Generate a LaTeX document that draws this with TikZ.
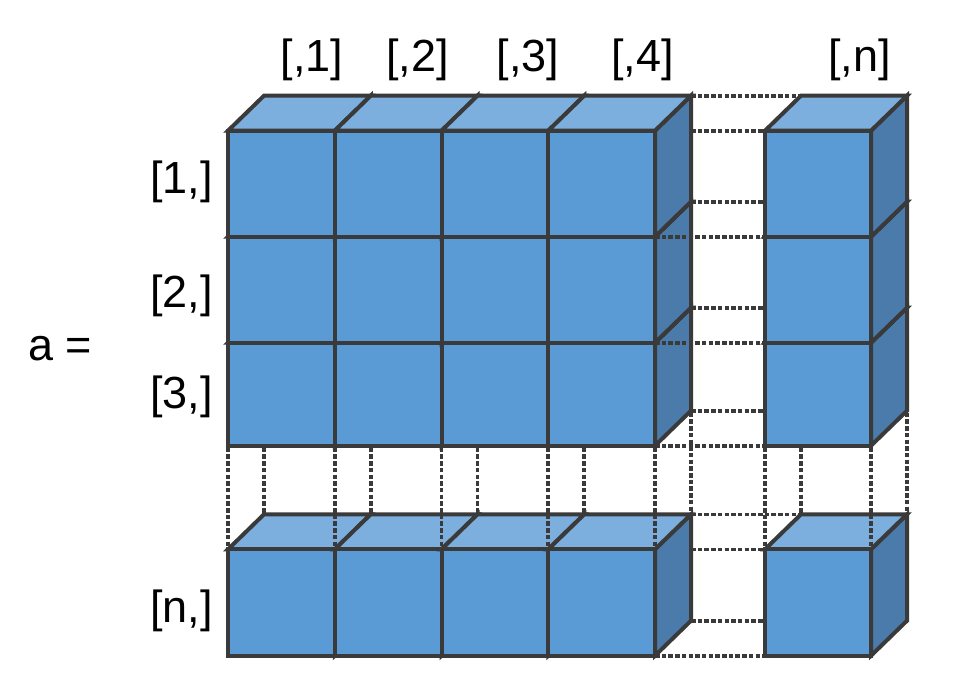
\documentclass[tikz,border=0pt]{standalone}
\usepackage{fontspec}
\setmainfont{Liberation Sans}
\definecolor{edgec}{HTML}{3A3A3A}
\definecolor{frontc}{HTML}{5B9BD5}
\definecolor{topc}{HTML}{7DAFDE}
\definecolor{sidec}{HTML}{4A7BAB}
\newcommand{\mycube}[4]{%
  \filldraw[cubeedge,fill=sidec] ({#1+#3},{#2}) -- ({#1+#3+36},{#2-35}) -- ({#1+#3+36},{#2+#4-35}) -- ({#1+#3},{#2+#4}) -- cycle;
  \filldraw[cubeedge,fill=topc] (#1,#2) -- ({#1+36},{#2-35}) -- ({#1+#3+36},{#2-35}) -- ({#1+#3},{#2}) -- cycle;
  \filldraw[cubeedge,fill=frontc] (#1,#2) rectangle ({#1+#3},{#2+#4});
}
\begin{document}
\begin{tikzpicture}[x=1pt,y=-1pt,
  cubeedge/.style={draw=edgec,line width=4pt},
  hid/.style={draw=edgec,line width=3.6pt,dash pattern=on 4.5pt off 2.2pt},
  lab/.style={inner sep=0pt,font=\fontsize{45}{50}\selectfont}]
\useasboundingbox (0,0) rectangle (962,697);
% bottom row, left to right
\foreach \cx in {228,334.75,441.5,548.25} {\mycube{\cx}{549.3}{106.75}{106.4}}
\mycube{765}{549.3}{106}{106.4}
% upper block, bottom to top, left to right
\foreach \ry/\rh in {342.7/103,236.7/106,130.7/106} {
  \foreach \cx in {228,334.75,441.5,548.25} {\mycube{\cx}{\ry}{106.75}{\rh}}
  \mycube{765}{\ry}{106}{\rh}
}
% hidden (dotted) edges, top gap
\draw[hid] (691,95.7) -- (801,95.7);
\draw[hid] (691,130.7) -- (765,130.7);
\draw[hid] (691,201.7) -- (765,201.7);
\draw[hid] (655,236.7) -- (765,236.7);
\draw[hid] (691,307.7) -- (765,307.7);
\draw[hid] (655,342.7) -- (765,342.7);
\draw[hid] (691,410.7) -- (765,410.7);
\draw[hid] (655,445.7) -- (765,445.7);
% bottom gap
\draw[hid] (691,514.3) -- (801,514.3);
\draw[hid] (691,549.3) -- (765,549.3);
\draw[hid] (691,620.7) -- (765,620.7);
\draw[hid] (655,655.7) -- (765,655.7);
% verticals
\foreach \vx in {228,334.75,441.5,548.25,655,765,871} {\draw[hid] (\vx,447.7) -- (\vx,547.3);}
\foreach \vx in {264,370.75,477.5,584.25,801} {\draw[hid] (\vx,447.7) -- (\vx,514.3);}
\foreach \vx in {691,907} {\draw[hid] (\vx,412.7) -- (\vx,514.3);}
% labels
\node[lab,anchor=base] (c1) at (312,71) {[,1]};
\node[lab,anchor=base] (c2) at (417.5,71) {[,2]};
\node[lab,anchor=base] (c3) at (528,71) {[,3]};
\node[lab,anchor=base] (c4) at (642.5,71) {[,4]};
\node[lab,anchor=base] (cn) at (859.5,71) {[,n]};
\node[lab,anchor=base east] (r1) at (213,193) {[1,]};
\node[lab,anchor=base east] (r2) at (213,307) {[2,]};
\node[lab,anchor=base east] (r3) at (213,408) {[3,]};
\node[lab,anchor=base east] (rn) at (213,622) {[n,]};
\node[lab,anchor=base west] (a) at (28,360) {a =};
\end{tikzpicture}
\end{document}
